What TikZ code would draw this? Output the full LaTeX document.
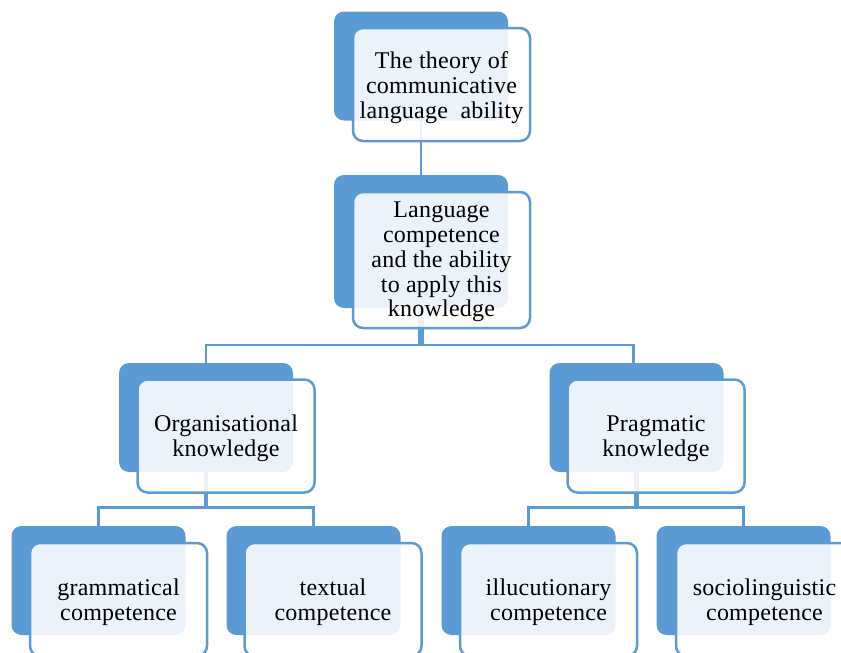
\documentclass[tikz,border=0pt]{standalone}
\usepackage{fontspec}
\setmainfont{Liberation Serif}[LetterSpace=1]
\usetikzlibrary{backgrounds}
\definecolor{accent}{HTML}{5B9BD5}
\tikzset{
  backbox/.style={fill=accent, draw=none, rounded corners=10pt,
    minimum width=174pt, minimum height=109pt, inner sep=0pt},
  frontbox/.style={draw=accent, line width=2.5pt, fill=white, fill opacity=0.88,
    rounded corners=10pt, minimum width=177pt, minimum height=113pt, inner sep=0pt},
  labeltext/.style={align=center, inner sep=0pt, font=\fontsize{24}{24.8}\selectfont},
  link/.style={draw=accent, line width=2.5pt},
}
\begin{document}
\begin{tikzpicture}[x=1pt, y=-1pt]
\useasboundingbox (0,0) rectangle (841,653);
\clip (0,0) rectangle (841,653);

% back (solid) boxes
\node[backbox] (topb) at (421,66) {};
\node[backbox, minimum height=133pt] (langb) at (421,241.5) {};
\node[backbox] (orgb) at (206,417.5) {};
\node[backbox] (pragb) at (636.5,417.5) {};
\node[backbox] (gramb) at (98.5,580.5) {};
\node[backbox] (textb) at (313.5,580.5) {};
\node[backbox] (illub) at (528.5,580.5) {};
\node[backbox] (socib) at (743.5,580.5) {};

% front (outlined) boxes
\node[frontbox] (topf) at (441.5,84.5) {};
\node[frontbox, minimum height=136pt] (langf) at (441.5,260) {};
\node[frontbox] (orgf) at (226,436) {};
\node[frontbox] (pragf) at (656,436) {};
\node[frontbox] (gramf) at (118.5,599.5) {};
\node[frontbox] (textf) at (333,599.5) {};
\node[frontbox] (illuf) at (548.5,599.5) {};
\node[frontbox] (socif) at (764.5,599.5) {};

% labels, set slightly below the centre of each front box
\node[labeltext] (topt) at ([yshift=-3pt]topf.center) {The theory of\\communicative\\language\ \ ability};
\node[labeltext] (langt) at ([yshift=-2pt]langf.center) {Language\\competence\\and the ability\\to apply this\\knowledge};
\node[labeltext] (orgt) at ([yshift=-2.5pt]orgf.center) {Organisational\\knowledge};
\node[labeltext] (pragt) at ([yshift=-2.5pt]pragf.center) {Pragmatic\\knowledge};
\node[labeltext] (gramt) at ([yshift=-3pt]gramf.center) {grammatical\\competence};
\node[labeltext] (textt) at ([yshift=-3pt]textf.center) {textual\\competence};
\node[labeltext] (illut) at ([yshift=-3pt]illuf.center) {illucutionary\\competence};
\node[labeltext] (socit) at ([yshift=-3pt]socif.center) {sociolinguistic\\competence};

% connectors, behind all boxes
\coordinate (busA) at (421,345);
\coordinate (busL) at (206,507.5);
\coordinate (busR) at (636.5,507.5);
\begin{scope}[on background layer]
  \draw[link] (topb.center) -- (langb.center);
  \draw[link] ([xshift=-1.6pt]langb.center) -- ([xshift=-1.6pt]langb.center |- busA) -| (orgb.center);
  \draw[link] ([xshift=1.6pt]langb.center) -- ([xshift=1.6pt]langb.center |- busA) -| ([xshift=-3pt]pragb.center);
  \draw[link] ([xshift=-1.2pt]orgb.center) -- ([xshift=-1.2pt]busL) -| (gramb.center);
  \draw[link] ([xshift=1.2pt]orgb.center) -- ([xshift=1.2pt]busL) -| (textb.center);
  \draw[link] ([xshift=-1.2pt]pragb.center) -- ([xshift=-1.2pt]busR) -| (illub.center);
  \draw[link] ([xshift=1.2pt]pragb.center) -- ([xshift=1.2pt]busR) -| (socib.center);
\end{scope}
\end{tikzpicture}
\end{document}
